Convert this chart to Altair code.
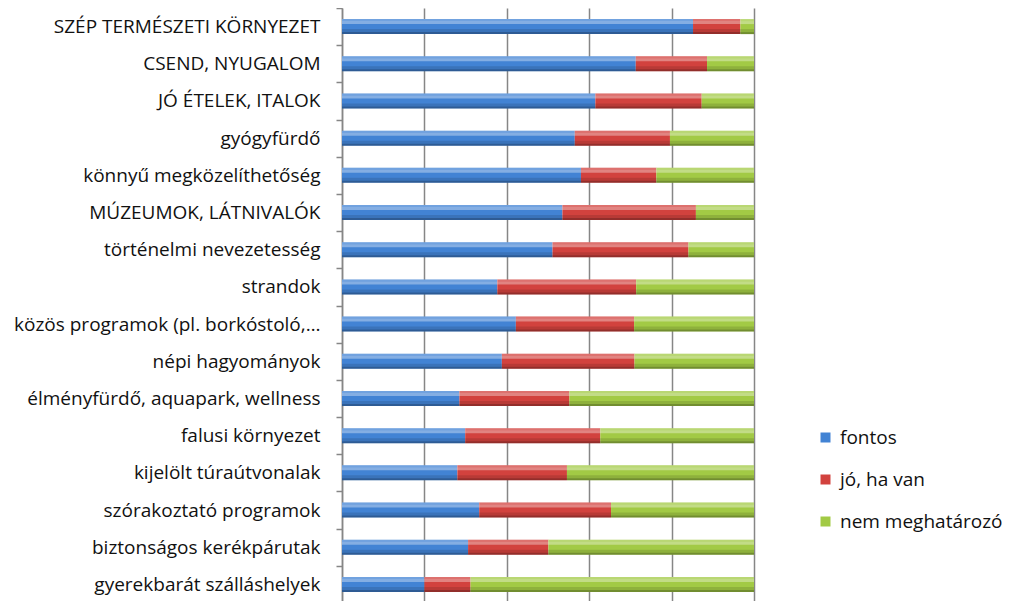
import altair as alt
import pandas as pd

categories = [
    "SZÉP TERMÉSZETI KÖRNYEZET",
    "CSEND, NYUGALOM",
    "JÓ ÉTELEK, ITALOK",
    "gyógyfürdő",
    "könnyű megközelíthetőség",
    "MÚZEUMOK, LÁTNIVALÓK",
    "történelmi nevezetesség",
    "strandok",
    "közös programok (pl. borkóstoló,…",
    "népi hagyományok",
    "élményfürdő, aquapark, wellness",
    "falusi környezet",
    "kijelölt túraútvonalak",
    "szórakoztató programok",
    "biztonságos kerékpárutak",
    "gyerekbarát szálláshelyek",
]
series = ["fontos", "jó, ha van", "nem meghatározó"]
fontos = [85.2, 71.3, 61.5, 56.5, 58.0, 53.5, 51.1, 37.7, 42.2, 38.8, 28.5, 29.9, 28.0, 33.3, 30.6, 20.0]
jo_ha_van = [11.5, 17.3, 25.8, 23.1, 18.3, 32.4, 33.0, 33.7, 28.7, 32.2, 26.7, 32.8, 26.6, 32.0, 19.5, 11.2]
nem_meghatarozo = [3.3, 11.4, 12.7, 20.4, 23.7, 14.1, 15.9, 28.6, 29.1, 29.0, 44.8, 37.3, 45.4, 34.7, 49.9, 68.8]
colors = ["#4283D4", "#D2423E", "#A2CA45"]

rows = []
for i, c in enumerate(categories):
    for j, (s, vals) in enumerate(zip(series, [fontos, jo_ha_van, nem_meghatarozo])):
        rows.append({"cat": c, "series": s, "value": vals[i], "ord": j})
df = pd.DataFrame(rows)

FONT = "Open Sans"

y_enc = alt.Y(
    "cat:N",
    sort=categories,
    title=None,
    scale=alt.Scale(paddingInner=0, paddingOuter=0),
    axis=alt.Axis(
        labelFontSize=19,
        labelFont=FONT,
        labelColor="#111111",
        labelPadding=16,
        tickSize=6,
        tickColor="#868686",
        domainColor="#868686",
        domainWidth=1.5,
        tickWidth=1.5,
        tickBand="extent",
        grid=False,
        labelLimit=400,
    ),
)
x_enc = alt.X(
    "value:Q",
    stack="normalize",
    title=None,
    scale=alt.Scale(domain=[0, 1]),
    axis=alt.Axis(
        values=[0, 0.2, 0.4, 0.6, 0.8, 1.0],
        grid=True,
        gridColor="#868686",
        gridWidth=1.5,
        domain=False,
        ticks=False,
        labels=False,
    ),
)

base = alt.Chart(df).mark_bar(size=15).encode(
    x=x_enc,
    y=y_enc,
    color=alt.Color(
        "series:N",
        scale=alt.Scale(domain=series, range=colors),
        sort=series,
        legend=alt.Legend(
            title=None,
            orient="none",
            legendX=474,
            legendY=420,
            symbolType="square",
            symbolSize=100,
            symbolStrokeWidth=0,
            labelFontSize=19,
            labelFont=FONT,
            labelColor="#111111",
            labelOffset=5,
            labelLimit=400,
            rowPadding=22,
        ),
    ),
    order=alt.Order("ord:Q"),
)

def band(size, offset, color, opacity):
    return alt.Chart(df).mark_bar(
        size=size, yOffset=offset, color=color, opacity=opacity
    ).encode(
        x=alt.X("value:Q", stack="normalize"),
        y=alt.Y("cat:N", sort=categories),
        detail="series:N",
        order=alt.Order("ord:Q"),
    )

highlight_top = band(2, -6.5, "white", 0.25)
highlight = band(3, -4.0, "white", 0.35)
shade = band(3, 4.0, "black", 0.12)
shade_bottom = band(2, 6.5, "black", 0.3)

chart = (
    alt.layer(base, highlight_top, highlight, shade, shade_bottom)
    .properties(
        width=412,
        height=595,
        autosize=alt.AutoSizeParams(type="none"),
        padding={"left": 334, "top": 0, "right": 250, "bottom": 10},
    )
    .configure_view(stroke=None)
)

chart.save("out.html", embed_options={"renderer": "svg", "actions": False})
